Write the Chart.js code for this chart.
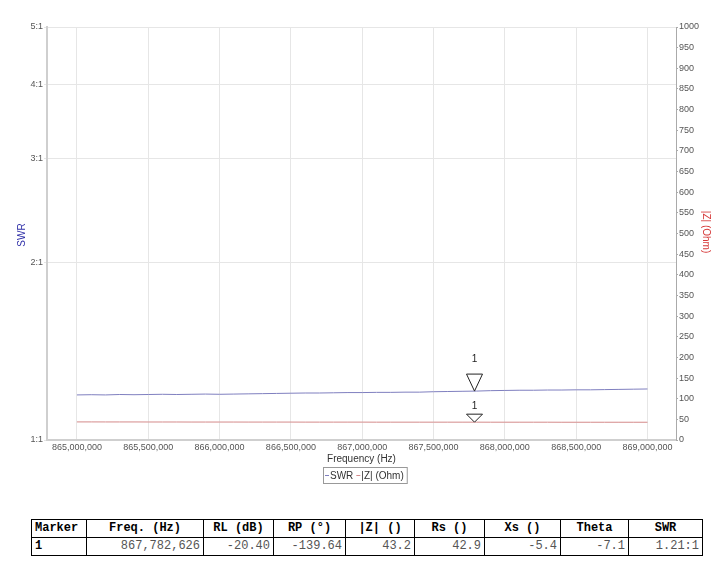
<!DOCTYPE html>
<html>
<head>
<meta charset="utf-8">
<script src="https://cdn.jsdelivr.net/npm/chart.js@4.4.1/dist/chart.umd.min.js"></script>
<style>
  body { margin: 0; background: #fff; width: 728px; height: 570px; position: relative; overflow: hidden; }
  #swrChart { position: absolute; left: 0; top: 0; }
  table.mk { position: absolute; left: 31px; top: 519px; border-collapse: collapse;
    font-family: "Liberation Mono", "Courier New", monospace; font-size: 12px; table-layout: fixed; }
  table.mk th, table.mk td { border: 1px solid #000; padding: 0 3px; height: 17px; line-height: 17px; white-space: pre; }
  table.mk th { font-weight: bold; color: #000; text-align: center; }
  table.mk th:first-child { text-align: left; }
  table.mk td { text-align: right; color: #555; }
  table.mk td:first-child { text-align: left; color: #000; font-weight: bold; }
</style>
</head>
<body>
<canvas id="swrChart" width="728" height="500"></canvas>
<table class="mk" id="markerTable"></table>
<script>
// sweep points (MHz)
const freqMHz = [865.0, 865.1, 865.2, 865.3, 865.4, 865.5, 865.6, 865.7, 865.8, 865.9,
  866.0, 866.1, 866.2, 866.3, 866.4, 866.5, 866.6, 866.7, 866.8, 866.9,
  867.0, 867.1, 867.2, 867.3, 867.4, 867.5, 867.6, 867.7, 867.8, 867.9,
  868.0, 868.1, 868.2, 868.3, 868.4, 868.5, 868.6, 868.7, 868.8, 868.9, 869.0];
const swrValues = [1.192, 1.193, 1.192, 1.194, 1.193, 1.194, 1.195, 1.194, 1.195, 1.196,
  1.195, 1.196, 1.197, 1.198, 1.199, 1.200, 1.201, 1.201, 1.202, 1.203,
  1.203, 1.204, 1.204, 1.205, 1.205, 1.207, 1.208, 1.209, 1.210, 1.212,
  1.213, 1.214, 1.214, 1.215, 1.215, 1.216, 1.216, 1.217, 1.218, 1.219, 1.220];
const zValues = [43.8, 43.8, 43.7, 43.7, 43.7, 43.6, 43.6, 43.6, 43.5, 43.5,
  43.5, 43.5, 43.4, 43.4, 43.4, 43.4, 43.3, 43.3, 43.3, 43.3,
  43.3, 43.2, 43.2, 43.2, 43.2, 43.2, 43.2, 43.2, 43.2, 43.1,
  43.1, 43.1, 43.1, 43.1, 43.0, 43.0, 43.0, 43.0, 43.0, 43.0, 43.0];

const swrTicks = [1, 2, 3, 4, 5];
const freqTicks = [865000000, 865500000, 866000000, 866500000, 867000000,
  867500000, 868000000, 868500000, 869000000];

const markerFreq = 867782626;
const markerSwr = 1.21;
const markerZ = 43.2;

const tableHead = ['Marker', 'Freq. (Hz)', 'RL (dB)', 'RP (°)', '|Z| ()', 'Rs ()', 'Xs ()', 'Theta', 'SWR'];
const tableRow = ['1', '867,782,626', '-20.40', '-139.64', '43.2', '42.9', '-5.4', '-7.1', '1.21:1'];
const colWidths = [55, 117, 70, 72, 69, 70, 76, 68, 74];

const swrColor = '#7f7fbf';
const zColor = '#d48a8a';

// marker table
const tbl = document.getElementById('markerTable');
let html = '<colgroup>' + colWidths.map(w => '<col style="width:' + w + 'px">').join('') + '</colgroup>';
html += '<tr>' + tableHead.map(h => '<th>' + h + '</th>').join('') + '</tr>';
html += '<tr>' + tableRow.map(v => '<td>' + v + '</td>').join('') + '</tr>';
tbl.innerHTML = html;

Chart.defaults.font.family = '"Liberation Sans", Arial, sans-serif';
Chart.defaults.font.size = 9;
Chart.defaults.color = '#555';

function triangle(ctx, x, apexY, halfW, h) {
  ctx.beginPath();
  ctx.moveTo(x - halfW, apexY - h);
  ctx.lineTo(x + halfW, apexY - h);
  ctx.lineTo(x, apexY);
  ctx.closePath();
  ctx.fillStyle = 'rgba(255,255,255,0.6)';
  ctx.fill();
  ctx.strokeStyle = '#222';
  ctx.lineWidth = 1;
  ctx.stroke();
}

const extras = {
  id: 'extras',
  afterDatasetsDraw(chart) {
    const { ctx, scales } = chart;
    const x = Math.round(scales.x.getPixelForValue(markerFreq)) + 0.5;
    const y1 = scales.ySwr.getPixelForValue(markerSwr);
    const y2 = scales.yZ.getPixelForValue(markerZ);
    ctx.save();
    triangle(ctx, x, y1, 8, 17);
    triangle(ctx, x, y2, 8, 8);
    ctx.fillStyle = '#222';
    ctx.font = '10px "Liberation Sans", Arial';
    ctx.textAlign = 'center';
    ctx.textBaseline = 'middle';
    ctx.fillText('1', x, y1 - 32);
    ctx.fillText('1', x, y2 - 16);
    ctx.restore();
  },
  afterDraw(chart) {
    const { ctx, chartArea } = chart;
    ctx.save();
    ctx.font = '10px "Liberation Sans", Arial';
    ctx.textAlign = 'center';
    ctx.textBaseline = 'middle';
    // axis titles
    ctx.fillStyle = '#2f2fa8';
    ctx.save();
    ctx.translate(22, 235);
    ctx.rotate(-Math.PI / 2);
    ctx.fillText('SWR', 0, 0);
    ctx.restore();
    ctx.fillStyle = '#d63a3a';
    ctx.save();
    ctx.translate(706, 232);
    ctx.rotate(Math.PI / 2);
    ctx.fillText('|Z| (Ohm)', 0, 0);
    ctx.restore();
    ctx.fillStyle = '#333';
    ctx.fillText('Frequency (Hz)', (chartArea.left + chartArea.right) / 2, 459);

    // legend box
    const items = [{ text: 'SWR', color: swrColor }, { text: '|Z| (Ohm)', color: zColor }];
    const dash = 5, gap = 3;
    let total = 2;
    items.forEach(it => { it.w = ctx.measureText(it.text).width; total += dash + it.w + gap; });
    let lx = Math.round(365 - total / 2);
    const top = 467, h = 16;
    ctx.strokeStyle = '#999';
    ctx.lineWidth = 1;
    ctx.strokeRect(lx + 0.5, top + 0.5, total, h);
    let cx = lx + 2;
    ctx.textAlign = 'left';
    items.forEach(it => {
      ctx.strokeStyle = it.color;
      ctx.beginPath();
      ctx.moveTo(cx, top + h / 2 + 0.5);
      ctx.lineTo(cx + dash - 1, top + h / 2 + 0.5);
      ctx.stroke();
      ctx.fillStyle = '#333';
      ctx.fillText(it.text, cx + dash, top + h / 2 + 1);
      cx += dash + it.w + gap;
    });
    ctx.restore();
  }
};

new Chart(document.getElementById('swrChart'), {
  type: 'line',
  data: {
    datasets: [{
      label: 'SWR',
      data: freqMHz.map((f, i) => ({ x: f * 1e6, y: swrValues[i] })),
      borderColor: swrColor,
      borderWidth: 1,
      pointRadius: 0,
      yAxisID: 'ySwr'
    }, {
      label: '|Z| (Ohm)',
      data: freqMHz.map((f, i) => ({ x: f * 1e6, y: zValues[i] })),
      borderColor: zColor,
      borderWidth: 1,
      pointRadius: 0,
      yAxisID: 'yZ'
    }]
  },
  options: {
    responsive: false,
    animation: false,
    devicePixelRatio: 1,
    layout: { padding: { top: 27, left: 0, right: 0, bottom: 0 } },
    plugins: { legend: { display: false }, tooltip: { enabled: false } },
    scales: {
      x: {
        type: 'linear',
        min: 864790000,
        max: 869200000,
        afterBuildTicks: s => { s.ticks = freqTicks.map(v => ({ value: v })); },
        afterFit: s => { s.height = 60; },
        ticks: {
          autoSkip: false, maxRotation: 0, padding: 2, color: '#555',
          callback: v => Number(v).toLocaleString('en-US')
        },
        grid: { color: '#e6e6e6', tickLength: 0 },
        border: { color: '#cfcfcf', width: 2 }
      },
      ySwr: {
        type: 'logarithmic',
        position: 'left',
        min: 1,
        max: 5,
        afterBuildTicks: s => { s.ticks = swrTicks.map(v => ({ value: v })); },
        afterFit: s => { s.width = 47; },
        ticks: { autoSkip: false, padding: 1, color: '#555', callback: v => v + ':1' },
        grid: { color: '#e6e6e6', tickLength: 3 },
        border: { color: '#cfcfcf', width: 2 }
      },
      yZ: {
        type: 'linear',
        position: 'right',
        min: 0,
        max: 1000,
        afterFit: s => { s.width = 52; },
        ticks: { stepSize: 50, autoSkip: false, padding: 1, color: '#555', callback: v => String(v) },
        grid: { drawOnChartArea: false, color: '#aaa', tickLength: 2 },
        border: { color: '#aaa', width: 1 }
      }
    }
  },
  plugins: [extras]
});
</script>
</body>
</html>
